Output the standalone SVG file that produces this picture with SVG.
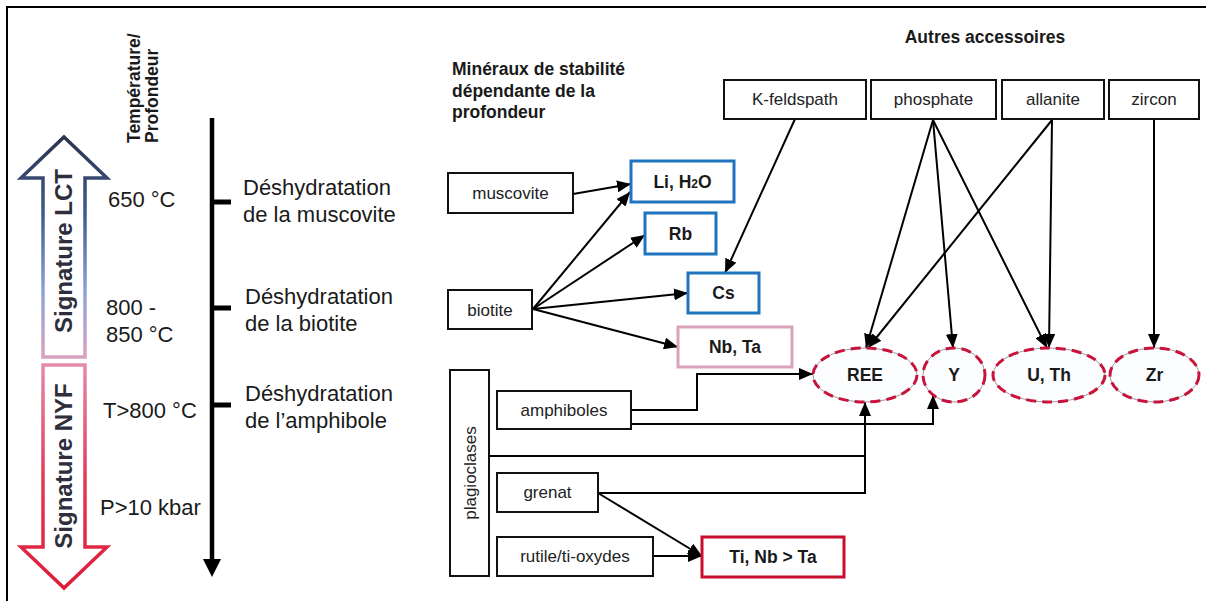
<svg xmlns="http://www.w3.org/2000/svg" width="1206" height="601" viewBox="0 0 1206 601">
<style>
text{font-family:"Liberation Sans",Arial,sans-serif;fill:#1a1a1a}
.lab{font-size:22px}
.box{fill:#fff;stroke:#111;stroke-width:2}
.bt{font-size:17px;text-anchor:middle;fill:#222}
.bb{font-size:17.5px;font-weight:bold;text-anchor:middle}
.hd{font-size:17.5px;font-weight:bold}
.blue{fill:#fff;stroke:#1f74bd;stroke-width:3}
.pink{fill:#fff;stroke:#d9a3bb;stroke-width:3}
.red{fill:#fff;stroke:#c8102e;stroke-width:3}
.ell{fill:#fbfdff;stroke:#999;stroke-width:1}
.elld{fill:none;stroke:#c8143c;stroke-width:3;stroke-dasharray:10 6}
.con{fill:none;stroke:#000;stroke-width:2}
.arr{marker-end:url(#ah)}
</style>
<defs>
<marker id="ah" markerUnits="userSpaceOnUse" markerWidth="14" markerHeight="12" refX="14" refY="6" orient="auto">
<path d="M0,0 L14,6 L0,12 z" fill="#000"/>
</marker>
<linearGradient id="gLCT" gradientUnits="userSpaceOnUse" x1="0" y1="137" x2="0" y2="358">
<stop offset="0" stop-color="#2b3450"/>
<stop offset="0.35" stop-color="#3f5b8e"/>
<stop offset="0.7" stop-color="#8ea4d6"/>
<stop offset="1" stop-color="#dba2c0"/>
</linearGradient>
<linearGradient id="gNYF" gradientUnits="userSpaceOnUse" x1="0" y1="365" x2="0" y2="588">
<stop offset="0" stop-color="#e48aa6"/>
<stop offset="0.5" stop-color="#e33a5a"/>
<stop offset="1" stop-color="#dc1c38"/>
</linearGradient>
</defs>

<path d="M7,601 V7 H1206" fill="none" stroke="#000" stroke-width="2"/>

<g id="signature-lct">
<path d="M64,137 L107,178 L85,178 L85,357 L43,357 L43,178 L21,178 Z" fill="#fff" stroke="url(#gLCT)" stroke-width="3.5" stroke-linejoin="miter"/>
<text transform="translate(72,251) rotate(-90)" font-size="24" font-weight="bold" text-anchor="middle" style="fill:#2e2e3c">Signature LCT</text>
</g>
<g id="signature-nyf">
<path d="M43,365 L85,365 L85,547 L107,547 L64,588 L21,547 L43,547 Z" fill="#fff" stroke="url(#gNYF)" stroke-width="3.5" stroke-linejoin="miter"/>
<text transform="translate(72,466) rotate(-90)" font-size="24" font-weight="bold" text-anchor="middle" style="fill:#2e2e3c">Signature NYF</text>
</g>

<g id="axis-title">
<text class="hd" transform="translate(140,143) rotate(-90)" font-size="18">Température/</text>
<text class="hd" transform="translate(158,143) rotate(-90)" font-size="18">Profondeur</text>
</g>

<g id="temperatures">
<text class="lab" x="108" y="207">650 °C</text>
<text class="lab" x="106" y="315">800 -</text>
<text class="lab" x="106" y="342">850 °C</text>
<text class="lab" x="103" y="418">T&gt;800 °C</text>
<text class="lab" x="100" y="515">P&gt;10 kbar</text>
</g>

<g id="axis">
<line x1="212" y1="118" x2="212" y2="562" stroke="#000" stroke-width="4.5"/>
<path d="M203,559 L221,559 L212,577 Z" fill="#000"/>
<line x1="212" y1="202" x2="231" y2="202" stroke="#000" stroke-width="5"/>
<line x1="212" y1="308" x2="231" y2="308" stroke="#000" stroke-width="5"/>
<line x1="212" y1="405" x2="231" y2="405" stroke="#000" stroke-width="5"/>
</g>

<g id="deshydratation">
<text class="lab" x="243" y="195">Déshydratation</text>
<text class="lab" x="243" y="222">de la muscovite</text>
<text class="lab" x="245" y="304">Déshydratation</text>
<text class="lab" x="245" y="331">de la biotite</text>
<text class="lab" x="245" y="401">Déshydratation</text>
<text class="lab" x="245" y="428">de l’amphibole</text>
</g>

<g id="headers">
<text class="hd" x="452" y="75">Minéraux de stabilité</text>
<text class="hd" x="452" y="97">dépendante de la</text>
<text class="hd" x="452" y="118">profondeur</text>
<text class="hd" x="985" y="43" text-anchor="middle">Autres accessoires</text>
</g>

<g id="connectors">
<path class="con arr" d="M573,194 L631,184"/>
<path class="con arr" d="M533,309 L630,192"/>
<path class="con arr" d="M533,309 L645,235"/>
<path class="con arr" d="M533,309 L688,293"/>
<path class="con arr" d="M533,309 L678,347"/>
<path class="con arr" d="M795,119 L725,273"/>
<path class="con arr" d="M933,120 L866,348"/>
<path class="con arr" d="M933,120 L953,348"/>
<path class="con arr" d="M933,120 L1047,348"/>
<path class="con arr" d="M1052,120 L868,348"/>
<path class="con arr" d="M1052,120 L1049,348"/>
<path class="con arr" d="M1154,119 L1154,348"/>
<path class="con arr" d="M631,410 H697 V374 H813"/>
<path class="con arr" d="M631,424 H933 V395"/>
<path class="con" d="M489,456 H865"/>
<path class="con arr" d="M598,493 H865 V402"/>
<path class="con arr" d="M598,493 L702,556"/>
<path class="con arr" d="M653,556 L702,556"/>
</g>

<g id="muscovite"><rect class="box" x="448" y="173" width="125" height="40"/><text class="bt" x="510.5" y="199">muscovite</text></g>
<g id="biotite"><rect class="box" x="448" y="290" width="84" height="39"/><text class="bt" x="490" y="316">biotite</text></g>
<g id="li-h2o"><rect class="blue" x="631" y="161" width="103" height="41"/><text class="bb" x="682.5" y="188">Li, H<tspan font-size="12">2</tspan>O</text></g>
<g id="rb"><rect class="blue" x="645" y="213" width="71" height="41"/><text class="bb" x="680.5" y="240">Rb</text></g>
<g id="cs"><rect class="blue" x="688" y="273" width="71" height="40"/><text class="bb" x="723.5" y="299">Cs</text></g>
<g id="nb-ta"><rect class="pink" x="678" y="327" width="114" height="40"/><text class="bb" x="735" y="353">Nb, Ta</text></g>

<g id="k-feldspath"><rect class="box" x="724" y="80" width="142" height="39"/><text class="bt" x="795" y="105">K-feldspath</text></g>
<g id="phosphate"><rect class="box" x="871" y="80" width="125" height="39"/><text class="bt" x="933.5" y="105">phosphate</text></g>
<g id="allanite"><rect class="box" x="1002" y="80" width="102" height="39"/><text class="bt" x="1053" y="105">allanite</text></g>
<g id="zircon"><rect class="box" x="1109" y="80" width="90" height="39"/><text class="bt" x="1154" y="105">zircon</text></g>

<g id="ree"><ellipse class="ell" cx="865" cy="375" rx="52" ry="27"/><ellipse class="elld" cx="865" cy="375" rx="52" ry="27"/><text class="bb" x="865" y="381">REE</text></g>
<g id="y"><ellipse class="ell" cx="954" cy="375" rx="31" ry="27"/><ellipse class="elld" cx="954" cy="375" rx="31" ry="27"/><text class="bb" x="954" y="381">Y</text></g>
<g id="u-th"><ellipse class="ell" cx="1049" cy="375" rx="56" ry="27"/><ellipse class="elld" cx="1049" cy="375" rx="56" ry="27"/><text class="bb" x="1049" y="381">U, Th</text></g>
<g id="zr"><ellipse class="ell" cx="1154.5" cy="375" rx="44.5" ry="27"/><ellipse class="elld" cx="1154.5" cy="375" rx="44.5" ry="27"/><text class="bb" x="1154.5" y="381">Zr</text></g>

<g id="plagioclases"><rect class="box" x="450" y="370" width="39" height="206"/><text class="bt" transform="translate(476,473) rotate(-90)">plagioclases</text></g>
<g id="amphiboles"><rect class="box" x="497" y="391" width="134" height="38"/><text class="bt" x="564" y="416">amphiboles</text></g>
<g id="grenat"><rect class="box" x="497" y="473" width="101" height="39"/><text class="bt" x="547.5" y="498">grenat</text></g>
<g id="rutile"><rect class="box" x="497" y="537" width="156" height="39"/><text class="bt" x="575" y="562">rutile/ti-oxydes</text></g>
<g id="ti-nb-ta"><rect class="red" x="702" y="537" width="142" height="40"/><text class="bb" x="773" y="563">Ti, Nb &gt; Ta</text></g>
</svg>
